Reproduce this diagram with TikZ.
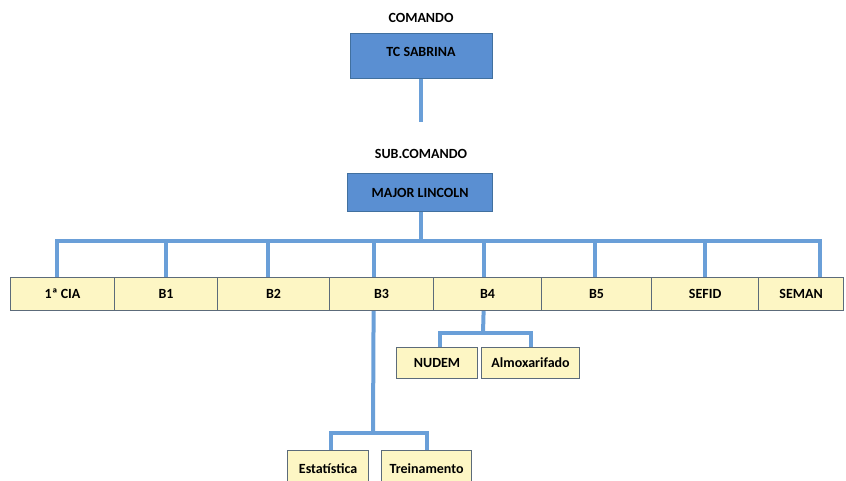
\documentclass[tikz,border=0pt]{standalone}
\usepackage{fontspec}
\setmainfont{Carlito}
\begin{document}
\begin{tikzpicture}[x=1pt,y=-1pt,
  font=\bfseries\fontsize{14}{16}\selectfont,
  cmdbox/.style={draw=boxedge,fill=boxblue,line width=1.2pt,text=black,inner sep=0pt},
  unitbox/.style={draw=unitedge,fill=unityellow,line width=1.2pt,inner sep=0pt,text=black,
    minimum height=33pt},
  subbox/.style={draw=unitedge,fill=unityellow,line width=1.2pt,inner sep=0pt,text=black},
  title/.style={inner sep=0pt},
  link/.style={draw=linkblue,line width=4pt}]
\definecolor{boxblue}{HTML}{5A8FD2}
\definecolor{boxedge}{HTML}{41709F}
\definecolor{unityellow}{HTML}{FDF6C4}
\definecolor{unitedge}{HTML}{5C6B7A}
\definecolor{linkblue}{HTML}{6A9FD8}
\useasboundingbox (0,0) rectangle (846,481);
\clip (0,0) rectangle (846,481);

% command level
\node[title] (cmdlabel) at (421,18) {COMANDO};
\node[cmdbox,minimum width=142pt,minimum height=45pt,anchor=north west] (tc) at (350,33) {};
\node[title] (tctext) at (421,52) {TC SABRINA};
\coordinate (tcend) at (421,122);
\draw[link] (tc.south -| tcend) -- (tcend);

\node[title] (sublabel) at (421,154) {SUB.COMANDO};
\node[cmdbox,minimum width=145pt,minimum height=38pt,anchor=north west] (ml) at (347,173) {MAJOR LINCOLN};

% units row
\node[unitbox,minimum width=104pt,anchor=north west] (cia) at (10,277) {1ª CIA};
\node[unitbox,minimum width=103pt,anchor=north west] (b1) at (114,277) {B1};
\node[unitbox,minimum width=112pt,anchor=north west] (b2) at (217,277) {B2};
\node[unitbox,minimum width=104pt,anchor=north west] (b3) at (329,277) {B3};
\node[unitbox,minimum width=108pt,anchor=north west] (b4) at (433,277) {B4};
\node[unitbox,minimum width=110pt,anchor=north west] (b5) at (541,277) {B5};
\node[unitbox,minimum width=107pt,anchor=north west] (sefid) at (651,277) {SEFID};
\node[unitbox,minimum width=85pt,anchor=north west] (seman) at (758,277) {SEMAN};

% bus from sub-command to the units
\coordinate (bus) at (421,241);
\draw[link] (ml.south -| bus) -- (bus);
\draw[link] ([xshift=-6pt]cia.north) -- ([xshift=-6pt]cia.north |- bus)
  -- ([xshift=19pt]seman.north |- bus) -- ([xshift=19pt]seman.north);
\foreach \n/\dx in {b1/0,b2/-6,b3/-8,b4/-4,b5/-2,sefid/0}
  \draw[link] ([xshift=\dx pt]\n.north) -- ([xshift=\dx pt]\n.north |- bus);

% B4 sections
\node[subbox,minimum width=81pt,minimum height=31pt,anchor=north west] (nudem) at (396,347) {NUDEM};
\node[subbox,minimum width=98pt,minimum height=31pt,anchor=north west] (almox) at (481,347) {Almoxarifado};
\coordinate (b4fork) at (483,333);
\draw[link] ([xshift=-4pt]b4.south) -- (b4fork);
\draw[link] ([xshift=3pt]nudem.north) |- (b4fork) -| (almox.north);

% B3 sections
\node[subbox,minimum width=81pt,minimum height=36pt,anchor=north west] (estat) at (287,450) {Estatística};
\node[subbox,minimum width=90pt,minimum height=36pt,anchor=north west] (trein) at (381,450) {Treinamento};
\coordinate (b3fork) at (373,433);
\draw[link] ([xshift=-8pt]b3.south) -- (b3fork);
\draw[link] ([xshift=3pt]estat.north) |- (b3fork) -| ([xshift=0.5pt]trein.north);
\end{tikzpicture}
\end{document}
